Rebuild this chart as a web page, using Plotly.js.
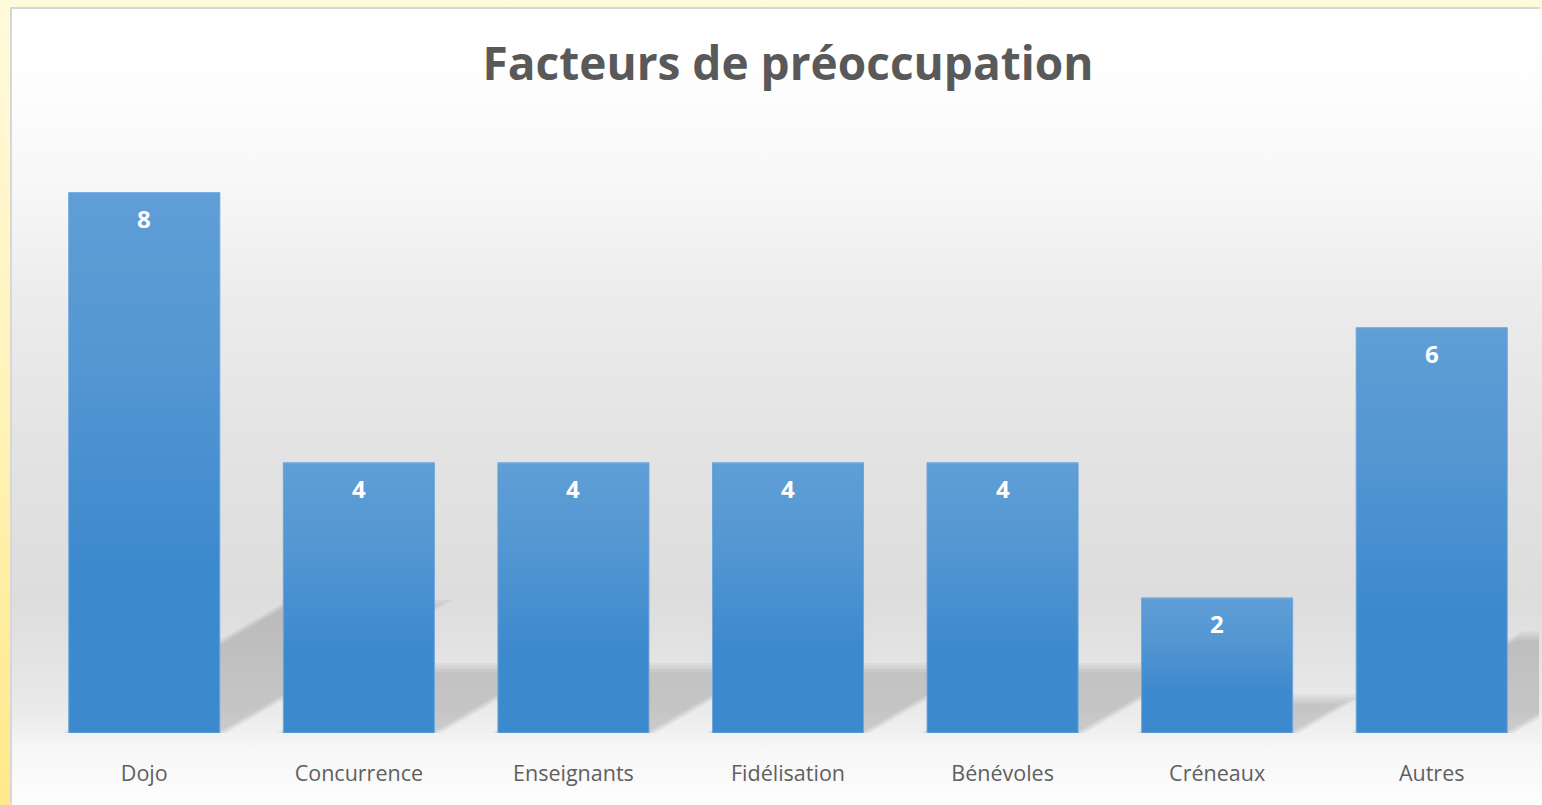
<!DOCTYPE html>
<html>
<head>
<meta charset="utf-8">
<script src="https://cdn.plot.ly/plotly-3.0.1.min.js"></script>
<style>
  html, body { margin: 0; padding: 0; width: 1542px; height: 805px; overflow: hidden; }
  body { background: linear-gradient(to bottom, #fffadc 0%, #fff4bd 45%, #ffe98a 100%); position: relative; }
  #chart {
    position: absolute; left: 12px; top: 9px; width: 1530px; height: 796px;
    box-shadow: -2px -2px 0 #d7d7d7;
    background: linear-gradient(to bottom,
      #ffffff 0px, #ffffff 50px, #f7f7f7 180px, #ececec 290px, #e3e3e3 440px,
      #dddddd 590px, #e2e2e2 640px, #eaeaea 700px, #f1f1f1 724px, #f7f7f7 740px,
      #fafafa 770px, #ffffff 796px);
  }
</style>
</head>
<body>
<div id="chart"></div>
<script>
// ---- data ----
const categories = ['Dojo', 'Concurrence', 'Enseignants', 'Fidélisation', 'Bénévoles', 'Créneaux', 'Autres'];
const values = [8, 4, 4, 4, 4, 2, 6];
const titleText = 'Facteurs de préoccupation';

// ---- geometry / style ----
const W = 1530, H = 796;
const M = { l: 25, r: 3, t: 116, b: 72 };
const xRange = [-0.5, categories.length - 0.5];
const yRange = [0, 9];
const barWidth = 0.704;
const pxPerX = (W - M.l - M.r) / (xRange[1] - xRange[0]);
const pxPerY = (H - M.t - M.b) / (yRange[1] - yRange[0]);
const idx = categories.map((_, i) => i);

const traces = [];

// perspective floor shadows (decorative, derived from values) - on the bottom subplot
const shadowRatio = 0.233;   // shadow height / bar height
const skew = 1.7;            // horizontal px per vertical px
const blurSteps = [9, 6, 3, 0];
idx.forEach(i => {
  const v = values[i];
  const xL = i - barWidth / 2, xR = i + barWidth / 2;
  const hPx = v * pxPerY * shadowRatio;
  blurSteps.forEach(d => {
    const top = hPx + d - 2;
    const shiftX = (skew * top) / pxPerX;
    const ex = (d - 2) / pxPerX;
    traces.push({
      type: 'scatter', mode: 'lines', xaxis: 'x', yaxis: 'y',
      x: [xL - ex, xR + ex, xR + shiftX + ex, xL + shiftX - ex, xL - ex],
      y: [0, 0, top / pxPerY, top / pxPerY, 0],
      fill: 'toself', fillcolor: 'rgba(0,0,0,0.04)',
      line: { width: 0, color: 'rgba(0,0,0,0)' },
      hoverinfo: 'skip', showlegend: false
    });
  });
});

// bars - on the overlaying subplot, drawn above the shadows
traces.push({
  type: 'bar', x: idx, y: values, width: barWidth, xaxis: 'x2', yaxis: 'y2',
  marker: { color: '#3d89cd', line: { color: '#6ea8dc', width: 1 } },
  hoverinfo: 'skip', showlegend: false
});

// subtle lighter gradient on upper part of each bar
idx.forEach(i => {
  const v = values[i];
  const xL = i - barWidth / 2 + 0.003, xR = i + barWidth / 2 - 0.003;
  traces.push({
    type: 'scatter', mode: 'lines', xaxis: 'x2', yaxis: 'y2',
    x: [xL, xR, xR, xL, xL],
    y: [0, 0, v, v, 0],
    fill: 'toself',
    fillgradient: {
      type: 'vertical', start: 0, stop: v,
      colorscale: [[0, 'rgba(255,255,255,0)'], [0.3, 'rgba(255,255,255,0)'], [0.7, 'rgba(255,255,255,0.12)'], [1, 'rgba(255,255,255,0.18)']]
    },
    line: { width: 0, color: 'rgba(0,0,0,0)' },
    hoverinfo: 'skip', showlegend: false
  });
});

// value labels
const annotations = idx.map(i => ({
  x: i, y: values[i], xref: 'x2', yref: 'y2',
  text: String(values[i]), showarrow: false,
  yanchor: 'middle', yshift: -26,
  font: { family: 'Open Sans', size: 24, color: '#ffffff', weight: 'bold' }
}));

const layout = {
  width: W, height: H,
  margin: M,
  paper_bgcolor: 'rgba(0,0,0,0)',
  plot_bgcolor: 'rgba(0,0,0,0)',
  showlegend: false,
  title: {
    text: titleText,
    x: 0.5, xref: 'paper', xanchor: 'center',
    y: 1 - 54.5 / H, yref: 'container', yanchor: 'middle',
    font: { family: 'Open Sans', size: 46, color: '#595959', weight: 'bold' }
  },
  xaxis: {
    range: xRange, tickvals: idx, ticktext: categories,
    showgrid: false, zeroline: false, showline: false, ticks: '',
    ticklabelstandoff: 25,
    tickfont: { family: 'Open Sans', size: 21.5, color: '#5f5f5f' },
    fixedrange: true
  },
  yaxis: { range: yRange, visible: false, fixedrange: true },
  xaxis2: { range: xRange, overlaying: 'x', visible: false, fixedrange: true },
  yaxis2: { range: yRange, overlaying: 'y', visible: false, fixedrange: true },
  annotations: annotations
};

Plotly.newPlot('chart', traces, layout, { displayModeBar: false, staticPlot: true });
</script>
</body>
</html>
